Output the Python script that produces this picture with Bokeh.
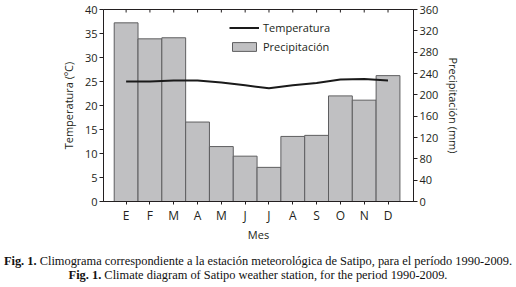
from bokeh.plotting import figure
from bokeh.models import (LinearAxis, Range1d, FixedTicker, Legend, LegendItem,
                          ColumnDataSource, Div)
from bokeh.layouts import column
from bokeh.embed import file_html
from bokeh.resources import INLINE

months = ["E", "F", "M", "A", "M", "J", "J", "A", "S", "O", "N", "D"]
month_pos = list(range(1, 13))
precip_mm = [335, 305, 307, 149, 103, 85, 64, 122, 124, 198, 190, 236]
temp_c = [25.0, 25.0, 25.2, 25.2, 24.8, 24.2, 23.6, 24.2, 24.7, 25.4, 25.5, 25.2]
temp_ticks = [0, 5, 10, 15, 20, 25, 30, 35, 40]
precip_ticks = [0, 40, 80, 120, 160, 200, 240, 280, 320, 360]
caption_bold = ["Fig. 1.", "Fig. 1."]
caption_text = [
    "Climograma correspondiente a la estación meteorológica de Satipo, para el período 1990-2009.",
    "Climate diagram of Satipo weather station, for the period 1990-2009.",
]

FONT = "Open Sans"
TXT = "#231f20"
X0, X1 = 0.05, 13.07
H1 = 247

p = figure(width=516, height=H1, output_backend="svg", toolbar_location=None,
           x_range=Range1d(X0, X1), y_range=Range1d(0, 40),
           min_border_left=103, min_border_right=103, min_border_top=9,
           min_border_bottom=H1 - 201, x_axis_location=None, y_axis_location=None)
p.extra_y_ranges = {"pp": Range1d(0, 360)}
p.grid.visible = False
p.outline_line_color = "#231f20"
p.outline_line_width = 1
p.background_fill_color = "white"
p.border_fill_color = "white"

src = ColumnDataSource(dict(x=month_pos, pp=precip_mm, t=temp_c))
bars = p.vbar(x="x", top="pp", bottom=0, width=1.0, source=src, y_range_name="pp",
              fill_color="#c0c0c2", line_color="#5e5e60", line_width=1)
ln = p.line(x="x", y="t", source=src, line_color="#1a1a1a", line_width=2)

# inward tick marks along the top frame edge, at the month positions
tick_len = 40 * 3 / 192
p.segment(x0=month_pos, x1=month_pos, y0=[40] * 12, y1=[40 - tick_len] * 12,
          line_color="#231f20", line_width=1)

def style(ax, size="11px"):
    ax.axis_line_color = "#231f20"
    ax.major_tick_line_color = "#231f20"
    ax.minor_tick_line_color = None
    ax.major_label_text_font = FONT
    ax.major_label_text_font_size = size
    ax.major_label_text_color = TXT
    ax.axis_label_text_font = FONT
    ax.axis_label_text_font_size = "11px"
    ax.axis_label_text_font_style = "normal"
    ax.axis_label_text_color = TXT

left = LinearAxis(ticker=FixedTicker(ticks=temp_ticks), axis_label="Temperatura (ºC)")
style(left)
left.major_tick_out = 4
left.major_tick_in = 0
left.major_label_standoff = 2
left.axis_label_standoff = 6
p.add_layout(left, "left")

right = LinearAxis(y_range_name="pp", ticker=FixedTicker(ticks=precip_ticks),
                   axis_label="Precipitación (mm)")
style(right)
right.major_tick_out = 4
right.major_tick_in = 0
right.major_label_standoff = 2
right.axis_label_standoff = 5
p.add_layout(right, "right")

bottom = LinearAxis(ticker=FixedTicker(ticks=month_pos), axis_label="Mes",
                    major_label_overrides={i: m for i, m in zip(month_pos, months)})
style(bottom, "12px")
bottom.major_tick_out = 3
bottom.major_tick_in = 0
bottom.major_label_standoff = 2
bottom.axis_label_standoff = 0
p.add_layout(bottom, "below")

legend = Legend(items=[LegendItem(label="Temperatura", renderers=[ln]),
                       LegendItem(label="Precipitación", renderers=[bars])],
                location=(126, 147), orientation="vertical",
                border_line_color=None, background_fill_alpha=0,
                padding=0, margin=0, spacing=4,
                glyph_width=30, glyph_height=11, label_height=11,
                label_standoff=4, label_text_font=FONT,
                label_text_font_size="11px", label_text_color=TXT)
p.add_layout(legend, "center")

# caption below the chart
H2 = 287 - H1
html = "<br>".join(f"<b>{b}</b> {t}" for b, t in zip(caption_bold, caption_text))
cap = Div(text=html, width=516, height=H2, margin=(0, 0, 0, 0),
          styles={"font-family": "'Liberation Serif', serif", "font-size": "12.4px",
                  "line-height": "14px", "padding-top": "7px", "text-align": "center",
                  "white-space": "nowrap", "color": "#111111", "width": "516px",
                  "background-color": "white"})

lay = column(p, cap, spacing=0)
open("out.html", "w").write(file_html(lay, INLINE))
